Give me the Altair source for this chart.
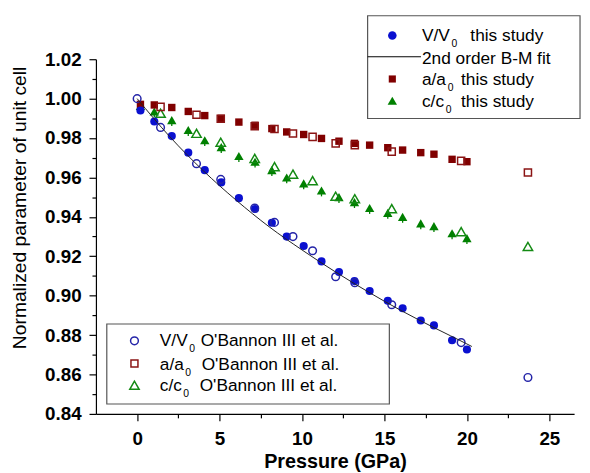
import altair as alt
import pandas as pd

# ---------------- data ----------------
# this study (filled symbols)
p_this = [0.2, 1.04, 2.1, 3.1, 4.1, 5.1, 6.17, 7.15, 8.17, 9.07, 10.1, 11.18, 12.24,
          13.18, 14.1, 15.2, 16.1, 17.2, 18.0, 19.1, 20.0]
v_this = [0.994, 0.9884, 0.981, 0.9726, 0.9637, 0.9575, 0.9495, 0.944, 0.937, 0.930,
          0.9252, 0.9174, 0.912, 0.9074, 0.9024, 0.8974, 0.8936, 0.8874, 0.8849, 0.8774, 0.8727]
a_this = [0.9971, 0.9968, 0.9955, 0.9935, 0.9914, 0.990, 0.9881, 0.9865, 0.9848, 0.9831,
          0.9818, 0.9798, 0.9784, 0.9773, 0.9764, 0.9751, 0.9739, 0.9726, 0.9718, 0.9692, 0.968]
c_this = [0.9963, 0.9935, 0.9891, 0.9841, 0.9789, 0.9754, 0.9709, 0.968, 0.9637, 0.960,
          0.957, 0.9534, 0.950, 0.9475, 0.9445, 0.942, 0.940, 0.9367, 0.9353, 0.9317, 0.9292]
c_err = [0.003, 0.003, 0.003, 0.003, 0.003, 0.003, 0.003, 0.003, 0.003, 0.003, 0.003,
         0.003, 0.003, 0.003, 0.003, 0.003, 0.003, 0.003, 0.003, 0.003, 0.003]

# O'Bannon III et al. (open symbols)
p_ob_v = [0.0, 1.42, 3.6, 5.07, 7.13, 8.33, 9.45, 10.64, 12.04, 13.2, 15.44, 19.65, 23.7]
v_ob = [1.000, 0.9854, 0.967, 0.959, 0.9445, 0.9372, 0.930, 0.9228, 0.9096, 0.9066,
        0.8954, 0.8762, 0.8585]
p_ob_ac = [1.42, 3.6, 5.07, 7.13, 8.33, 9.45, 10.64, 12.04, 13.2, 15.44, 19.65, 23.7]
a_ob = [0.9958, 0.9918, 0.9898, 0.986, 0.9846, 0.9823, 0.9806, 0.9773, 0.9764, 0.9731,
        0.9684, 0.9625]
c_ob = [0.9926, 0.9824, 0.9779, 0.9697, 0.9655, 0.9617, 0.9584, 0.9505, 0.9492, 0.9442,
        0.9325, 0.925]

# 2nd order B-M fit curve
fit_p = [0.0, 2.0, 4.0, 6.0, 8.0, 10.0, 12.0, 14.0, 16.0, 18.0, 20.0, 20.3]
fit_v = [1.000, 0.9805, 0.9635, 0.9485, 0.935, 0.9232, 0.9122, 0.902, 0.8925, 0.8838,
         0.8755, 0.8742]

# axis ticks
x_major = [0, 5, 10, 15, 20, 25]
x_minor = [2.5, 7.5, 12.5, 17.5, 22.5]
y_major = [0.84, 0.86, 0.88, 0.90, 0.92, 0.94, 0.96, 0.98, 1.00, 1.02]
y_minor = [0.85, 0.87, 0.89, 0.91, 0.93, 0.95, 0.97, 0.99, 1.01]

# legend texts: (prefix, subscript, suffix)
legend1_rows = [("V/V", "0", "this study"), ("2nd order B-M fit", "", ""),
                ("a/a", "0", "this study"), ("c/c", "0", "this study")]
legend2_rows = [("V/V", "0", "O'Bannon III et al."), ("a/a", "0", "O'Bannon III et al."),
                ("c/c", "0", "O'Bannon III et al.")]

# ---------------- styles ----------------
FONT = "Liberation Sans"
BLUE = "#0a10d0"
BLUE_O = "#2424a8"
RED = "#800000"
RED_O = "#8b1414"
GREEN = "#008000"
GREEN_O = "#138a13"

df_this = pd.DataFrame({"p": p_this, "v": v_this, "a": a_this, "c": c_this, "cerr": c_err})
df_this["c_lo"] = df_this["c"] - df_this["cerr"]
df_ob_v = pd.DataFrame({"p": p_ob_v, "v": v_ob})
df_ob_ac = pd.DataFrame({"p": p_ob_ac, "a": a_ob, "c": c_ob})
df_fit = pd.DataFrame({"p": fit_p, "v": fit_v})

xs = alt.Scale(domain=[-2.5, 26.5], nice=False, zero=False)
ys = alt.Scale(domain=[0.84, 1.02], nice=False, zero=False)

x_axis = alt.Axis(values=x_major, format="d", grid=False, tickSize=7, tickColor="black",
                  tickWidth=1.2, domainColor="black", domainWidth=1.2, labelFont=FONT,
                  labelFontSize=19, labelFontWeight="bold", labelColor="black",
                  labelBaseline="alphabetic", labelPadding=24, labelFlush=False,
                  orient="bottom",
                  title="Pressure (GPa)", titleFont=FONT, titleFontSize=20,
                  titleFontWeight="bold", titleColor="black", titleBaseline="alphabetic",
                  titleY=54.5)
y_axis = alt.Axis(values=y_major, format=".2f", grid=False, tickSize=7, tickColor="black",
                  tickWidth=1.2, domainColor="black", domainWidth=1.2, labelFont=FONT,
                  labelFontSize=19, labelFontWeight="bold", labelColor="black",
                  labelPadding=8, orient="left",
                  title="Normalized parameter of unit cell", titleFont=FONT,
                  titleFontSize=19.5, titleFontWeight="normal", titleColor="black",
                  titleX=-77, titleY=150, titleAlign="center", titleBaseline="middle")
x_axis_minor = alt.Axis(values=x_minor, labels=False, domain=False, grid=False, tickSize=4,
                        tickColor="black", tickWidth=1.2, orient="bottom", title=None)
y_axis_minor = alt.Axis(values=y_minor, labels=False, domain=False, grid=False, tickSize=4,
                        tickColor="black", tickWidth=1.2, orient="left", title=None)


def pts(df, yfield, shape, filled, color, size, sw=1.5):
    return alt.Chart(df).mark_point(shape=shape, filled=filled, color=color, size=size,
                                    opacity=1, strokeWidth=sw).encode(
        x=alt.X("p:Q", scale=xs, axis=None),
        y=alt.Y(f"{yfield}:Q", scale=ys, axis=None))


minor_layer = alt.Chart(df_this).mark_point(opacity=0).encode(
    x=alt.X("p:Q", scale=xs, axis=x_axis_minor),
    y=alt.Y("v:Q", scale=ys, axis=y_axis_minor))

fit_layer = alt.Chart(df_fit).mark_line(color="#222222", strokeWidth=1,
                                        interpolate="monotone").encode(
    x=alt.X("p:Q", scale=xs, axis=x_axis),
    y=alt.Y("v:Q", scale=ys, axis=y_axis))

err_layer = alt.Chart(df_this).mark_rule(color=GREEN, strokeWidth=1.3).encode(
    x=alt.X("p:Q", scale=xs, axis=None),
    y=alt.Y("c_lo:Q", scale=ys, axis=None),
    y2="c:Q")

data_layers = [
    err_layer,
    pts(df_this, "c", "triangle-up", True, GREEN, 90),
    pts(df_ob_ac, "c", "triangle-up", False, GREEN_O, 90),
    pts(df_this, "a", "square", True, RED, 56),
    pts(df_ob_ac, "a", "square", False, RED_O, 52),
    pts(df_this, "v", "circle", True, BLUE, 68),
    pts(df_ob_v, "v", "circle", False, BLUE_O, 60),
]


# ---------------- legends (drawn in plot pixel space) ----------------
def one(d):
    return pd.DataFrame(d)


def box(x1, x2, y1, y2):
    return alt.Chart(one({"k": [0]})).mark_rect(fill="white", stroke="#555555",
                                                strokeWidth=1.2).encode(
        x=alt.value(x1), x2=alt.value(x2), y=alt.value(y1), y2=alt.value(y2))


def txt(s, x, y, size):
    return alt.Chart(one({"t": [s]})).mark_text(align="left", baseline="alphabetic",
                                                font=FONT, fontSize=size,
                                                color="black").encode(
        x=alt.value(x), y=alt.value(y), text="t:N")


def sym(shape, filled, color, size, x, y, sw=1.5):
    return alt.Chart(one({"k": [0]})).mark_point(shape=shape, filled=filled, color=color,
                                                 size=size, opacity=1,
                                                 strokeWidth=sw).encode(
        x=alt.value(x), y=alt.value(y))


leg = [box(275, 490, -44, 60)]
# legend 1
l1_sym = [("circle", True, BLUE, 75), None, ("square", True, RED, 52),
          ("triangle-up", True, GREEN, 90)]
l1_sym_y = [-24, -2.5, 20, 42]
l1_base = [-18, 5, 26, 48]
l1_sub_x = [360, 0, 356, 354]
l1_suf_x = [379, 0, 369.5, 369.5]
for i, (pre, sub, suf) in enumerate(legend1_rows):
    if l1_sym[i] is None:
        leg.append(alt.Chart(one({"k": [0]})).mark_rule(color="black", strokeWidth=1).encode(
            x=alt.value(275), x2=alt.value(329), y=alt.value(l1_sym_y[i])))
    else:
        s = l1_sym[i]
        leg.append(sym(s[0], s[1], s[2], s[3], 300, l1_sym_y[i]))
    leg.append(txt(pre, 330, l1_base[i], 17.5))
    if sub:
        leg.append(txt(sub, l1_sub_x[i], l1_base[i] + 6, 10.5))
        leg.append(txt(suf, l1_suf_x[i], l1_base[i], 17.5))

# legend 2
leg.append(box(11, 297, 268, 349))
l2_sym = [("circle", False, BLUE_O, 62), ("square", False, RED_O, 50),
          ("triangle-up", False, GREEN_O, 90)]
l2_sym_y = [285, 308, 330]
l2_base = [290.7, 314.5, 336]
l2_sub_x = [94.5, 90.5, 88.5]
l2_suf_x = [106, 107, 105]
for i, (pre, sub, suf) in enumerate(legend2_rows):
    s = l2_sym[i]
    leg.append(sym(s[0], s[1], s[2], s[3], 39, l2_sym_y[i]))
    leg.append(txt(pre, 64.7, l2_base[i], 17.5))
    leg.append(txt(sub, l2_sub_x[i], l2_base[i] + 6, 10.5))
    leg.append(txt(suf, l2_suf_x[i], l2_base[i], 17.5))

chart = alt.layer(minor_layer, *data_layers, fit_layer, *leg).resolve_axis(
    x="independent", y="independent"
).properties(
    width=484, height=359,
    autosize=alt.AutoSizeParams(type="none"),
    padding={"left": 89, "top": 49, "right": 8, "bottom": 60},
    background="white",
).configure_view(stroke=None)

chart.save("out.html", embed_options={"renderer": "svg", "actions": False})
